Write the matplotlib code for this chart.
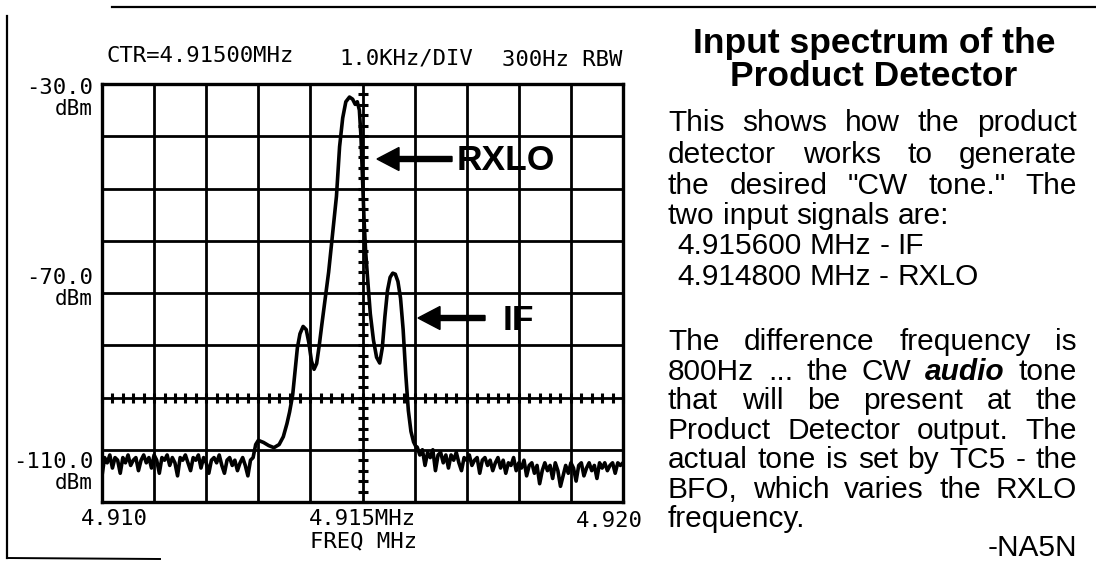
import numpy as np
import matplotlib
matplotlib.use("Agg")
import matplotlib.pyplot as plt
from matplotlib.patches import FancyArrow

# ---------------- data ----------------
freq_start_mhz = 4.910
freq_stop_mhz = 4.920
ref_level_dbm = -30.0
bottom_level_dbm = -110.0

header_labels = ["CTR=4.91500MHz", "1.0KHz/DIV", "300Hz RBW"]
y_tick_labels = ["-30.0", "-70.0", "-110.0"]
x_tick_labels = ["4.910", "4.915MHz", "4.920"]
x_axis_title = "FREQ MHz"

# noise floor left of the signals, 4.91000 .. 4.91290 MHz (uniform sweep)
noise_left_dbm = [-105, -101.5, -102.5, -101, -103.5, -101.5, -102, -104.5, -101.5, -102.5,
                  -101, -103, -102, -101.5, -104, -102, -101, -102.5, -101.5, -103.5,
                  -101, -102, -104.5, -101.5, -102, -101, -103, -101.5, -102.5, -105,
                  -101.5, -102, -101, -102.5, -104, -101.5, -102, -101, -103.5, -101.5,
                  -102.5, -104.5, -102, -101.5, -102.5, -101, -103, -104.5, -102, -101.5,
                  -103, -102, -104, -102.5, -101.5, -103, -105, -102, -101.5]
noise_left_range = (4.91000, 4.91290)

# signal region (RXLO + IF)
signal_freq_mhz = [4.91295, 4.91300, 4.91310, 4.91320, 4.91330, 4.91340, 4.91348, 4.91355,
                   4.91360, 4.91366, 4.91370, 4.91375, 4.91380, 4.91386, 4.91392, 4.91397,
                   4.91402, 4.91407, 4.91412, 4.91417, 4.91422, 4.91427, 4.91435, 4.91443,
                   4.91450, 4.91456, 4.91462, 4.91468, 4.91475, 4.91481, 4.91486, 4.91490,
                   4.91494, 4.91497, 4.91500, 4.91503, 4.91506, 4.91510, 4.91515, 4.91521,
                   4.91527, 4.91533, 4.91538, 4.91543, 4.91548, 4.91553, 4.91558, 4.91563,
                   4.91568, 4.91573, 4.91578, 4.91583, 4.91588, 4.91593, 4.91598, 4.91602]
signal_level_dbm = [-99.0, -98.2, -98.6, -99.2, -99.6, -99.0, -97.5, -95.0,
                    -92.8, -89.5, -85.5, -80.5, -77.8, -76.4, -77.0, -79.5,
                    -83.0, -84.6, -83.5, -80.0, -76.0, -72.2, -66.0, -58.2,
                    -51.5, -42.0, -36.5, -33.4, -32.5, -32.9, -33.9, -33.4,
                    -35.0, -40.0, -48.0, -56.0, -62.0, -67.5, -74.0, -79.0,
                    -82.3, -83.4, -80.5, -74.5, -69.5, -67.0, -66.2, -66.4,
                    -67.8, -71.0, -77.0, -85.5, -92.5, -96.5, -98.5, -99.3]

# noise floor right of the signals, 4.91605 .. 4.92000 MHz (uniform sweep)
noise_right_dbm = [-99.5, -101, -100, -103, -100.5, -101.5, -100, -104, -101, -100.5,
                   -102.5, -101, -103.5, -101, -102, -100.5, -102.5, -104, -101.5, -102,
                   -101, -103, -102, -101.5, -104.5, -102, -101.5, -103, -102, -104,
                   -102.5, -101.5, -103.5, -102, -104.5, -102.5, -103, -101.5, -104, -102.5,
                   -103.5, -102, -105, -103, -102.5, -104.5, -103, -106.5, -104, -102.5,
                   -104, -103, -105.5, -102.5, -104, -107, -105, -103, -104.5, -102.5,
                   -103.5, -106, -103, -102.5, -105, -103.5, -102.5, -104, -103, -105.5,
                   -102.5, -103.5, -102.5, -104, -103, -102.5, -104.5, -102.5, -103, -102.5]
noise_right_range = (4.91605, 4.92000)

marker_labels = ["RXLO", "IF"]

title_lines = ["Input spectrum of the", "Product Detector"]
body_lines_top = [
    ("J", "This shows how the product"),
    ("J", "detector works to generate"),
    ("J", 'the desired "CW tone." The'),
    ("L", "two input signals are:"),
    ("I", "4.915600 MHz - IF"),
    ("I", "4.914800 MHz - RXLO"),
]
body_lines_bottom = [
    ("J", "The difference frequency is"),
    ("J", "800Hz ... the CW *audio* tone"),
    ("J", "that will be present at the"),
    ("J", "Product Detector output. The"),
    ("J", "actual tone is set by TC5 - the"),
    ("J", "BFO, which varies the RXLO"),
    ("L", "frequency."),
]
signature = "-NA5N"

# ---------------- figure ----------------
W, H = 1096, 562
DPI = 100
fig = plt.figure(figsize=(W / DPI, H / DPI), dpi=DPI)
fig.patch.set_facecolor("white")

# chart box in pixels
L_px, R_px, T_px, B_px = 102, 623, 84, 502
ax = fig.add_axes([L_px / W, 1 - B_px / H, (R_px - L_px) / W, (B_px - T_px) / H])
ax.set_xlim(freq_start_mhz, freq_stop_mhz)
ax.set_ylim(bottom_level_dbm, ref_level_dbm)
ax.set_xticks([])
ax.set_yticks([])
for s in ax.spines.values():
    s.set_linewidth(2.4)
    s.set_color("black")

xdiv = np.linspace(freq_start_mhz, freq_stop_mhz, 11)
ydiv = np.linspace(bottom_level_dbm, ref_level_dbm, 9)
for xv in xdiv[1:-1]:
    ax.axvline(xv, color="black", lw=2.0, zorder=1)
for yv in ydiv[1:-1]:
    ax.axhline(yv, color="black", lw=2.0, zorder=1)

# minor ticks on the centre graticule lines
xc = 0.5 * (freq_start_mhz + freq_stop_mhz)
yc = ydiv[2]
ymin_t = np.linspace(bottom_level_dbm, ref_level_dbm, 41)
xmin_t = np.linspace(freq_start_mhz, freq_stop_mhz, 51)
ax.plot(np.full_like(ymin_t, xc), ymin_t, ls="none", marker="_", ms=7, mew=2.2,
        color="black", zorder=2, clip_on=False)
ax.plot(xmin_t, np.full_like(xmin_t, yc), ls="none", marker="|", ms=7, mew=2.2,
        color="black", zorder=2, clip_on=False)

# trace
f_left = np.linspace(noise_left_range[0], noise_left_range[1], len(noise_left_dbm))
f_right = np.linspace(noise_right_range[0], noise_right_range[1], len(noise_right_dbm))
trace_f = np.concatenate([f_left, signal_freq_mhz, f_right])
trace_l = np.concatenate([noise_left_dbm, signal_level_dbm, noise_right_dbm])
ax.plot(trace_f, trace_l, color="black", lw=2.6, zorder=3, solid_joinstyle="round")

# ---------------- overlay in pixel coordinates ----------------
ov = fig.add_axes([0, 0, 1, 1], zorder=5)
ov.set_xlim(0, W)
ov.set_ylim(H, 0)
ov.axis("off")
ov.patch.set_alpha(0)

mono = "DejaVu Sans Mono"
msz = 16
ov.text(106, 56, header_labels[0], family=mono, fontsize=msz, ha="left", va="center")
ov.text(339, 58, header_labels[1], family=mono, fontsize=msz, ha="left", va="center")
ov.text(622, 60, header_labels[2], family=mono, fontsize=msz, ha="right", va="center")

for lab, yy in zip(y_tick_labels, [88, 278, 462]):
    ov.text(93, yy, lab, family=mono, fontsize=msz, ha="right", va="center")
    ov.text(93, yy + 21, "dBm", family=mono, fontsize=msz - 1, ha="right", va="center")

ov.text(114, 519, x_tick_labels[0], family=mono, fontsize=msz, ha="center", va="center")
ov.text(362, 519, x_tick_labels[1], family=mono, fontsize=msz, ha="center", va="center")
ov.text(609, 521, x_tick_labels[2], family=mono, fontsize=msz, ha="center", va="center")
ov.text(363, 541, x_axis_title, family=mono, fontsize=msz, ha="center", va="center")

# marker arrows
ov.add_patch(FancyArrow(452, 159, -75, 0, width=5, head_width=23, head_length=22,
                        length_includes_head=True, color="black", zorder=6))
ov.text(457, 161, marker_labels[0], family="Liberation Sans", fontweight="bold",
        fontsize=25.5, ha="left", va="center")
ov.add_patch(FancyArrow(485, 318, -67, 0, width=5, head_width=23, head_length=22,
                        length_includes_head=True, color="black", zorder=6))
ov.text(503, 320, marker_labels[1], family="Liberation Sans", fontweight="bold",
        fontsize=25.5, ha="left", va="center")

# page frame remnants
ov.plot([7, 7], [16, 558], color="black", lw=1.6)
ov.plot([7, 160], [558, 559], color="black", lw=1.4)
ov.plot([112, W], [7, 7], color="black", lw=1.6)

# ---------------- right-hand text ----------------
sans = "Liberation Sans"
ov.text(874, 43, title_lines[0], family=sans, fontweight="bold", fontsize=25.5,
        ha="center", va="center")
ov.text(874, 77, title_lines[1], family=sans, fontweight="bold", fontsize=25.5,
        ha="center", va="center")

BODY = 21.5
TL, TR = 668, 1077
renderer = fig.canvas.get_renderer()
space_w = (ov.text(0, 0, "a b", family=sans, fontsize=BODY).get_window_extent(renderer).width
           - ov.text(0, 0, "ab", family=sans, fontsize=BODY).get_window_extent(renderer).width)
for t in ov.texts[-2:]:
    t.remove()


def place_line(kind, line, y):
    words = line.split(" ")
    arts = []
    for w in words:
        kw = dict(family=sans, fontsize=BODY, va="center", ha="left")
        if w.startswith("*") and w.endswith("*"):
            w = w.strip("*")
            kw.update(fontweight="bold", fontstyle="italic")
        arts.append(ov.text(0, y, w, **kw))
    widths = [a.get_window_extent(renderer).width for a in arts]
    if kind == "J":
        gap = (TR - TL - sum(widths)) / (len(arts) - 1)
        x = TL
    else:
        gap = space_w
        x = TL if kind == "L" else TL + 9
    for a, wd in zip(arts, widths):
        a.set_x(x)
        x += wd + gap


for (kind, line), y in zip(body_lines_top, [123, 155, 186, 216, 246, 277]):
    place_line(kind, line, y)
for (kind, line), y in zip(body_lines_bottom, [342, 372, 401, 431, 460, 490, 519]):
    place_line(kind, line, y)
ov.text(TR, 548, signature, family=sans, fontsize=BODY, ha="right", va="center")

fig.savefig("out.png", dpi=DPI, facecolor="white")
